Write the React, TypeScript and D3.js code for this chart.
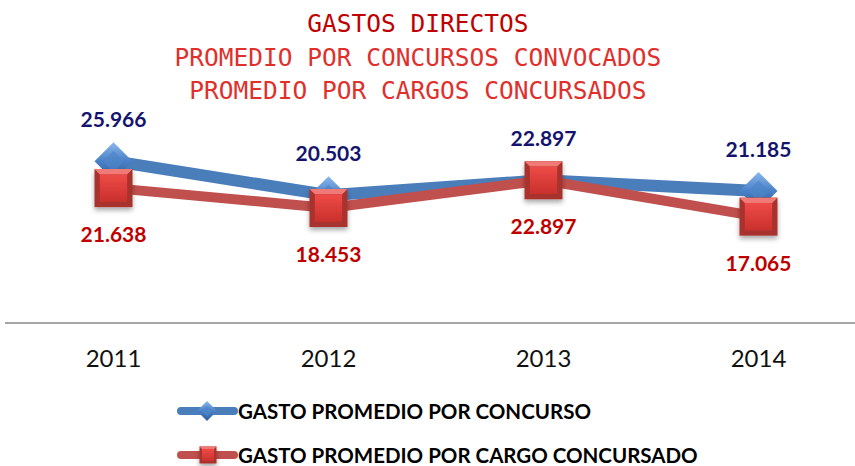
import React from "react";
import * as d3 from "d3";

const years = ["2011", "2012", "2013", "2014"];
const gastoConcurso = [25.966, 20.503, 22.897, 21.185];
const gastoCargo = [21.638, 18.453, 22.897, 17.065];
const labelsConcurso = ["25.966", "20.503", "22.897", "21.185"];
const labelsCargo = ["21.638", "18.453", "22.897", "17.065"];
const titleLines = [
  "GASTOS DIRECTOS",
  "PROMEDIO POR CONCURSOS CONVOCADOS",
  "PROMEDIO POR CARGOS CONCURSADOS",
];
const legendNames = ["GASTO PROMEDIO POR CONCURSO", "GASTO PROMEDIO POR CARGO CONCURSADO"];

const W = 855;
const H = 466;

const Diamond = ({ cx, cy, r }: { cx: number; cy: number; r: number }) => (
  <g>
    <path d={`M${cx},${cy - r}L${cx + r},${cy}L${cx},${cy + r}L${cx - r},${cy}Z`} fill="url(#blueDia)" />
    <path
      d={`M${cx},${cy - r * 0.55}L${cx + r * 0.55},${cy}L${cx},${cy + r * 0.55}L${cx - r * 0.55},${cy}Z`}
      fill="#4f86c9"
      opacity={0.7}
    />
  </g>
);

const Square = ({ cx, cy, s }: { cx: number; cy: number; s: number }) => {
  const h = s / 2;
  const b = s * 0.14;
  return (
    <g filter="url(#shadow)">
      <rect x={cx - h} y={cy - h} width={s} height={s} fill="#a8302d" />
      <path
        d={`M${cx - h},${cy - h}L${cx + h},${cy - h}L${cx + h - b},${cy - h + b}L${cx - h + b},${cy - h + b}Z`}
        fill="#f07a76"
      />
      <rect x={cx - h + b} y={cy - h + b} width={s - 2 * b} height={s - 2 * b} fill="url(#redSq)" />
    </g>
  );
};

export default function App() {
  document.body.style.margin = "0";

  const x = d3.scaleBand<string>().domain(years).range([6, 866]);
  const cx = (i: number) => (x(years[i]) as number) + x.bandwidth() / 2;
  const y = d3.scaleLinear().domain([0, 30]).range([323, 136]);

  const line = d3
    .line<number>()
    .x((d, i) => cx(i))
    .y((d) => y(d));

  return (
    <svg width={W} height={H} style={{ display: "block" }}>
      <defs>
        <linearGradient id="blueDia" x1="0" y1="0" x2="0" y2="1">
          <stop offset="0" stopColor="#8ab8ee" />
          <stop offset="0.5" stopColor="#4a80c6" />
          <stop offset="1" stopColor="#2d5f9e" />
        </linearGradient>
        <linearGradient id="redSq" x1="0" y1="0" x2="0" y2="1">
          <stop offset="0" stopColor="#ee4b47" />
          <stop offset="1" stopColor="#c9302c" />
        </linearGradient>
        <filter id="shadow" x="-30%" y="-30%" width="160%" height="170%">
          <feDropShadow dx="0" dy="3" stdDeviation="2.5" floodColor="#000" floodOpacity="0.35" />
        </filter>
      </defs>

      {titleLines.map((t, i) => (
        <text
          key={t}
          x={418}
          y={32 + i * 33.5}
          textAnchor="middle"
          fontFamily="'DejaVu Sans Mono', monospace"
          fontSize={24.5}
          fill={i === 0 ? "#c00000" : "#e0302c"}
        >
          {t}
        </text>
      ))}

      <line x1={5} x2={W} y1={y(0)} y2={y(0)} stroke="#a6a6a6" strokeWidth={2} />

      {years.map((yr, i) => (
        <text
          key={yr}
          x={cx(i)}
          y={367}
          textAnchor="middle"
          fontFamily="Lato, sans-serif"
          fontSize={24}
          fill="#111"
        >
          {yr}
        </text>
      ))}

      <path d={line(gastoConcurso) || ""} fill="none" stroke="#4a7ebb" strokeWidth={12} strokeLinejoin="round" />
      <path d={line(gastoCargo) || ""} fill="none" stroke="#c0504d" strokeWidth={10} strokeLinejoin="round" />

      {gastoConcurso.map((v, i) => (
        <Diamond key={"d" + i} cx={cx(i)} cy={y(v)} r={19} />
      ))}
      {gastoCargo.map((v, i) => (
        <Square key={"s" + i} cx={cx(i)} cy={y(v)} s={38} />
      ))}

      {gastoConcurso.map((v, i) => (
        <text
          key={"lc" + i}
          x={cx(i)}
          y={y(v) - 34}
          textAnchor="middle"
          fontFamily="Lato, sans-serif"
          fontWeight="bold"
          fontSize={21}
          fill="#14146e"
        >
          {labelsConcurso[i]}
        </text>
      ))}
      {gastoCargo.map((v, i) => (
        <text
          key={"lr" + i}
          x={cx(i)}
          y={y(v) + 54}
          textAnchor="middle"
          fontFamily="Lato, sans-serif"
          fontWeight="bold"
          fontSize={21}
          fill="#c00000"
        >
          {labelsCargo[i]}
        </text>
      ))}

      {legendNames.map((name, i) => {
        const ly = 411 + i * 44;
        return (
          <g key={name}>
            <line
              x1={181}
              x2={234}
              y1={ly}
              y2={ly}
              stroke={i === 0 ? "#4a7ebb" : "#c0504d"}
              strokeWidth={8}
              strokeLinecap="round"
            />
            {i === 0 ? <Diamond cx={207} cy={ly} r={10} /> : <Square cx={208} cy={ly} s={17} />}
            <text
              x={238}
              y={ly + 7.5}
              fontFamily="Lato, sans-serif"
              fontWeight="bold"
              fontSize={20.5}
              fill="#000"
            >
              {name}
            </text>
          </g>
        );
      })}
    </svg>
  );
}
